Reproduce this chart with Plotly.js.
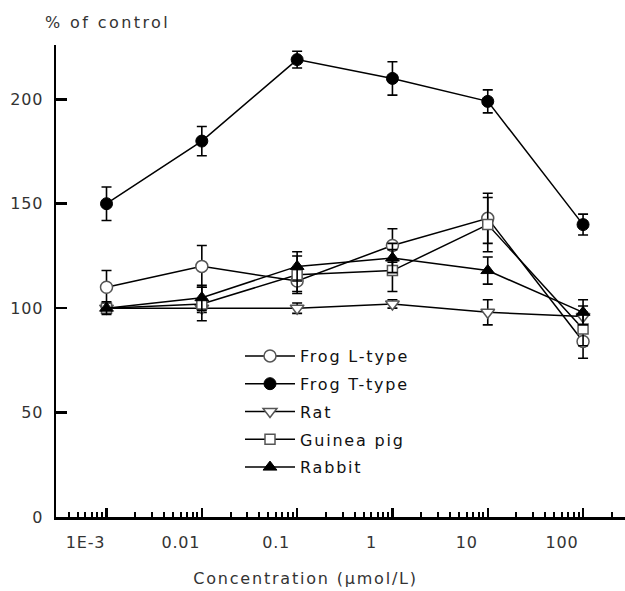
<!DOCTYPE html>
<html>
<head>
<meta charset="utf-8">
<script src="https://cdn.plot.ly/plotly-3.0.1.min.js"></script>
<style>
html,body{margin:0;padding:0;background:#fff}
#chart{width:625px;height:591px}
#chart .xtick text, #chart .ytick text{letter-spacing:0.8px}
#chart .legendtext, #chart .annotation-text{letter-spacing:1.8px}
#chart .gtitle{letter-spacing:2.4px}
#chart .legend, #chart .legend .scrollbox{clip-path:none !important}
</style>
</head>
<body>
<div id="chart"></div>
<script>
// Concentrations (µmol/L)
const conc = [0.001, 0.01, 0.1, 1, 10, 100];
const tickVals = [0.001, 0.01, 0.1, 1, 10, 100];
const tickText = ["1E-3", "0.01", "0.1", "1", "10", "100"];

const frogL    = [110, 120, 113, 130, 143, 84];
const frogLErr = [8, 10, 5, 8, 12, 8];
const frogT    = [150, 180, 219, 210, 199, 140];
const frogTErr = [8, 7, 4, 8, 5.5, 5];
const rat      = [100, 100, 100, 102, 98, 96];
const ratErr   = [2, 2, 2.5, 2, 6, 5];
const guinea   = [100, 102, 116, 118, 140, 90];
const guineaErr= [2, 8, 9, 10, 13, 8];
const rabbit   = [100, 105, 120, 124, 118, 98];
const rabbitErr= [3, 6, 7, 7, 6.5, 6];

const minorTicks = [];
for (let e = -4; e <= 2; e++) {
  for (let m = 2; m <= 9; m++) minorTicks.push(m * Math.pow(10, e));
}

const FONT = "DejaVu Sans, Verdana, sans-serif";
const outline = "#555";

function mk(name, y, err, marker) {
  return {
    type: "scatter", mode: "lines+markers", name: name, legendgroup: name,
    x: conc, y: y,
    error_y: {type: "data", array: err, visible: true, color: "#000", thickness: 1.6, width: 5},
    line: {color: "#000", width: 1.5},
    marker: marker,
    cliponaxis: false
  };
}

const traces = [
  mk("Frog L-type", frogL, frogLErr, {symbol: "circle", size: 12, color: "#fff", line: {color: outline, width: 1.5}}),
  mk("Frog T-type", frogT, frogTErr, {symbol: "circle", size: 12, color: "#000", line: {color: "#000", width: 1}}),
  mk("Rat", rat, ratErr, {symbol: "triangle-down", size: 12, color: "#fff", line: {color: outline, width: 1.5}}),
  mk("Guinea pig", guinea, guineaErr, {symbol: "square", size: 10, color: "#fff", line: {color: outline, width: 1.5}}),
  mk("Rabbit", rabbit, rabbitErr, {symbol: "triangle-up", size: 12, color: "#000", line: {color: "#000", width: 1}})
];

const layout = {
  width: 625, height: 591,
  margin: {l: 56, r: 0, t: 45, b: 74},
  paper_bgcolor: "#fff", plot_bgcolor: "#fff",
  font: {family: FONT, color: "#333", size: 14},
  showlegend: true,
  title: {text: "% of control", x: 45/625, xanchor: "left", y: 1 - 22/591, yanchor: "middle",
          font: {family: FONT, size: 16, color: "#333"}},
  xaxis: {
    type: "log", range: [-3.53, 2.44],
    showline: true, linewidth: 2.5, linecolor: "#000",
    ticks: "inside", ticklen: 9, tickwidth: 2.5, tickcolor: "#000",
    tickmode: "array", tickvals: tickVals, ticktext: tickText,
    ticklabelshift: -21, ticklabelstandoff: 9,
    tickfont: {family: FONT, size: 16, color: "#333"},
    showgrid: false, zeroline: false,
    minor: {tickmode: "array", tickvals: minorTicks, ticks: "inside", ticklen: 5, tickwidth: 2, tickcolor: "#000", showgrid: false}
  },
  yaxis: {
    range: [0, 226],
    showline: true, linewidth: 2.5, linecolor: "#000",
    ticks: "inside", ticklen: 11, tickwidth: 2.5, tickcolor: "#000",
    tickmode: "array", tickvals: [0, 50, 100, 150, 200],
    ticklabelstandoff: 7,
    tickfont: {family: FONT, size: 16, color: "#333"},
    showgrid: false, zeroline: false
  },
  legend: {
    x: (240 - 56) / 569, y: (517 - 339) / 472, xanchor: "left", yanchor: "top",
    bgcolor: "rgba(0,0,0,0)", borderwidth: 0,
    itemwidth: 50, traceorder: "grouped", tracegroupgap: 4,
    font: {family: FONT, size: 16, color: "#111"}
  },
  annotations: [{
    text: "Concentration (µmol/L)", xref: "paper", yref: "paper",
    x: (305 - 56) / 569, y: -61 / 472, xanchor: "center", yanchor: "middle",
    showarrow: false, font: {family: FONT, size: 16, color: "#333"}
  }]
};

Plotly.newPlot("chart", traces, layout, {displayModeBar: false, staticPlot: true});
</script>
</body>
</html>
